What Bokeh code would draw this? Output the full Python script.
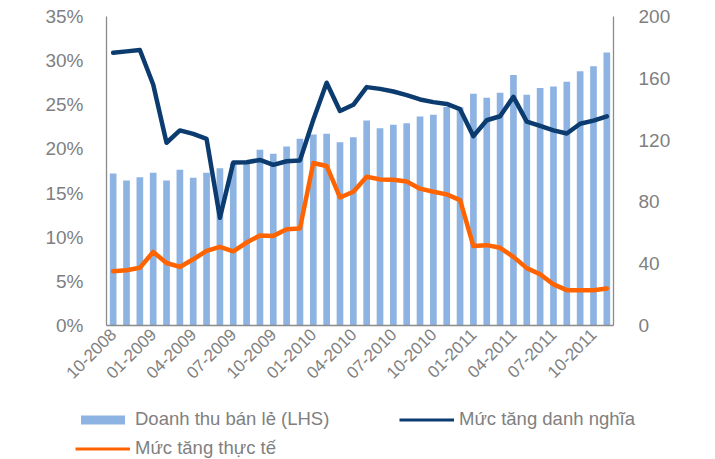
import math
from bokeh.plotting import figure
from bokeh.layouts import column
from bokeh.models import (Range1d, LinearAxis, FixedTicker, PrintfTickFormatter,
                          Legend, LegendItem, ColumnDataSource)
from bokeh.embed import file_html
from bokeh.resources import INLINE

# ---- data ----
months = ["10-2008", "11-2008", "12-2008",
          "01-2009", "02-2009", "03-2009", "04-2009", "05-2009", "06-2009",
          "07-2009", "08-2009", "09-2009", "10-2009", "11-2009", "12-2009",
          "01-2010", "02-2010", "03-2010", "04-2010", "05-2010", "06-2010",
          "07-2010", "08-2010", "09-2010", "10-2010", "11-2010", "12-2010",
          "01-2011", "02-2011", "03-2011", "04-2011", "05-2011", "06-2011",
          "07-2011", "08-2011", "09-2011", "10-2011", "11-2011"]

retail_sales = [98.4, 93.9, 96.0, 98.8, 93.9, 100.8, 95.6, 98.8, 101.8,
                105.0, 104.5, 113.7, 111.1, 115.9, 120.8, 123.6, 124.1, 118.6,
                121.9, 132.7, 127.7, 129.9, 130.9, 135.3, 136.4, 141.5, 141.3,
                150.0, 147.4, 150.6, 162.1, 149.3, 153.8, 154.7, 157.7, 164.6,
                167.8, 176.7]

nominal_growth = [30.9, 31.05, 31.2, 27.3, 20.7, 22.1, 21.7, 21.15, 12.2,
                  18.45, 18.5, 18.75, 18.2, 18.6, 18.7, 23.3, 27.5, 24.3,
                  25.0, 27.0, 26.8, 26.5, 26.1, 25.6, 25.3, 25.1, 24.5,
                  21.45, 23.25, 23.7, 25.9, 23.1, 22.6, 22.1, 21.75, 22.85,
                  23.2, 23.7]

real_growth = [6.14, 6.25, 6.55, 8.33, 7.08, 6.63, 7.5, 8.45, 8.9,
               8.4, 9.4, 10.2, 10.15, 10.9, 11.0, 18.4, 18.07, 14.5,
               15.15, 16.85, 16.55, 16.5, 16.3, 15.5, 15.15, 14.85, 14.2,
               9.0, 9.1, 8.8, 7.77, 6.5, 5.8, 4.66, 4.0, 4.0,
               4.0, 4.2]

left_ticks = [0, 5, 10, 15, 20, 25, 30, 35]
right_ticks = [0, 40, 80, 120, 160, 200]
label_step = 3

series_names = ["Doanh thu bán lẻ (LHS)", "Mức tăng danh nghĩa", "Mức tăng thực tế"]

# ---- styles ----
BAR_COLOR = "#8DB3E2"
NAVY = "#0B3B6F"
ORANGE = "#FF6400"
GRAY_TXT = "#808080"
AXIS_GRAY = "#8C8C8C"
FONT = "Liberation Sans"
W = 715

idx = list(range(len(months)))
src = ColumnDataSource(dict(x=idx, retail=retail_sales,
                            nominal=nominal_growth, real=real_growth))

# ---- main chart ----
p = figure(width=W, height=398, output_backend="svg", toolbar_location=None,
           x_range=Range1d(-0.5, len(months) - 0.5),
           y_range=Range1d(left_ticks[0], left_ticks[-1]),
           min_border_left=106, min_border_right=102,
           min_border_top=16, min_border_bottom=73)
p.frame_align = False
p.extra_y_ranges = {"right": Range1d(right_ticks[0], right_ticks[-1])}

p.grid.visible = False
p.outline_line_color = None
p.background_fill_color = "white"
p.border_fill_color = "white"

bars = p.vbar(x="x", top="retail", width=0.5, source=src, y_range_name="right",
              fill_color=BAR_COLOR, line_color=None)
l_nom = p.line(x="x", y="nominal", source=src, line_color=NAVY, line_width=4.5,
               line_join="round", line_cap="round")
l_real = p.line(x="x", y="real", source=src, line_color=ORANGE, line_width=4.5,
                line_join="round", line_cap="round")

right_axis = LinearAxis(y_range_name="right")
p.add_layout(right_axis, "right")

def style_axis(ax, size):
    ax.axis_line_color = AXIS_GRAY
    ax.axis_line_width = 1.3
    ax.major_tick_line_color = None
    ax.minor_tick_line_color = None
    ax.major_tick_out = 0
    ax.major_tick_in = 0
    ax.minor_tick_out = 0
    ax.minor_tick_in = 0
    ax.major_label_text_color = GRAY_TXT
    ax.major_label_text_font = FONT
    ax.major_label_text_font_size = size

left_axis = p.yaxis[0]
left_axis.ticker = FixedTicker(ticks=left_ticks)
left_axis.formatter = PrintfTickFormatter(format="%d%%")
style_axis(left_axis, "19px")
left_axis.major_label_standoff = 23

right_axis.ticker = FixedTicker(ticks=right_ticks)
style_axis(right_axis, "19px")
right_axis.major_label_standoff = 25

xaxis = p.xaxis[0]
tick_idx = idx[::label_step]
xaxis.ticker = FixedTicker(ticks=tick_idx)
xaxis.major_label_overrides = {i: months[i] for i in tick_idx}
xaxis.major_label_orientation = math.pi / 4
style_axis(xaxis, "17px")
xaxis.major_label_standoff = 6

# ---- legend strip (series glyphs kept out of view; only the legend shows) ----
leg_fig = figure(width=W, height=61, output_backend="svg", toolbar_location=None,
                 x_axis_type=None, y_axis_type=None,
                 x_range=Range1d(1000, 1001), y_range=Range1d(1000, 1001),
                 min_border_left=0, min_border_right=0,
                 min_border_top=0, min_border_bottom=0)
leg_fig.frame_align = False
leg_fig.grid.visible = False
leg_fig.outline_line_color = None
leg_fig.background_fill_color = "white"
leg_fig.border_fill_color = "white"

lb = leg_fig.vbar(x="x", top="retail", width=0.5, source=src,
                  fill_color=BAR_COLOR, line_color=None)
ln = leg_fig.line(x="x", y="nominal", source=src, line_color=NAVY, line_width=3)
lr = leg_fig.line(x="x", y="real", source=src, line_color=ORANGE, line_width=3)

legend = Legend(items=[LegendItem(label=series_names[0], renderers=[lb]),
                       LegendItem(label=series_names[1], renderers=[ln]),
                       LegendItem(label=series_names[2], renderers=[lr])],
                location=(75, 0), orientation="horizontal", ncols=2,
                glyph_width=55, glyph_height=11, label_width=257, label_height=22,
                spacing=7, padding=0, margin=0, label_standoff=5,
                border_line_color=None, background_fill_alpha=0,
                label_text_font=FONT, label_text_font_size="18.5px",
                label_text_color=GRAY_TXT)
leg_fig.add_layout(legend)

layout = column(p, leg_fig, spacing=0)

open("out.html", "w").write(file_html(layout, INLINE))
